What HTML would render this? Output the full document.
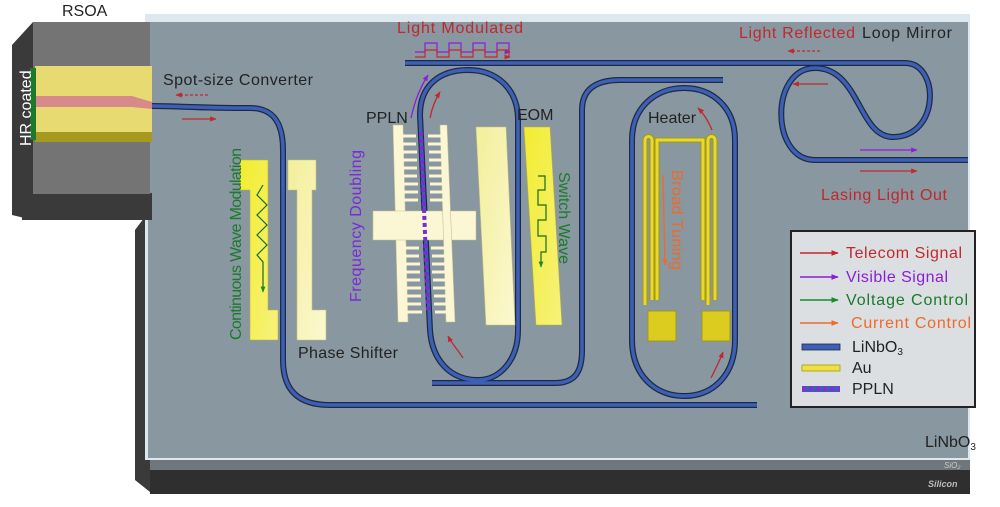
<!DOCTYPE html>
<html><head><meta charset="utf-8"><style>
html,body{margin:0;padding:0;background:#fff;}
svg{display:block;font-family:"Liberation Sans",sans-serif;}
</style></head><body>
<svg width="1000" height="507" viewBox="0 0 1000 507" xmlns="http://www.w3.org/2000/svg">
<defs>
<marker id="ar" viewBox="0 0 10 10" refX="9" refY="5" markerWidth="5" markerHeight="5" orient="auto"><path d="M0,1 L10,5 L0,9 z" fill="#c0282e"/></marker>
<marker id="ap" viewBox="0 0 10 10" refX="9" refY="5" markerWidth="5" markerHeight="5" orient="auto"><path d="M0,1 L10,5 L0,9 z" fill="#8a1ed8"/></marker>
<marker id="ag" viewBox="0 0 10 10" refX="9" refY="5" markerWidth="5" markerHeight="5" orient="auto"><path d="M0,1 L10,5 L0,9 z" fill="#1a8a2a"/></marker>
<marker id="ao" viewBox="0 0 10 10" refX="9" refY="5" markerWidth="5" markerHeight="5" orient="auto"><path d="M0,1 L10,5 L0,9 z" fill="#ee6a2a"/></marker>
<linearGradient id="ly" x1="0" y1="0" x2="1" y2="1"><stop offset="0" stop-color="#f3ef9a"/><stop offset="1" stop-color="#fbf8d0"/></linearGradient>
<linearGradient id="ey" x1="0" y1="0" x2="1" y2="1"><stop offset="0" stop-color="#f2ec30"/><stop offset="1" stop-color="#f7f27a"/></linearGradient>
</defs>
<rect width="1000" height="507" fill="#fff"/>
<!-- slab -->
<polygon points="135,230 150,210 150,492 135,480" fill="#3a3a3a"/>
<rect x="150" y="458" width="820" height="12" fill="#6f777c"/>
<rect x="150" y="470" width="820" height="24" fill="#2f2f2f"/>
<rect x="145" y="14" width="825" height="446" fill="#dde8ee"/>
<rect x="148" y="22" width="820" height="436" fill="#8897a0"/>
<!-- RSOA block -->
<polygon points="12,45 33,22 33,220 12,215" fill="#3a3a3a"/>
<rect x="22" y="193" width="130" height="27" fill="#3a3a3a"/>
<rect x="33" y="22" width="117" height="172" fill="#747474"/>
<rect x="35" y="66" width="117" height="68" fill="#e6da70"/>
<rect x="35" y="132" width="117" height="10" fill="#a49a20"/>
<rect x="30" y="68" width="6" height="72" fill="#1e7a2a"/>
<polygon points="36,96 132,96 152,102 152,109 132,107 36,107" fill="#d88a8a"/>
<!-- waveguides -->
<g fill="none" stroke-linecap="butt">
<g stroke="#1d2a45" stroke-width="6">
<path d="M152,106 C175,106 200,108 250,108 C275,108 283,125 283,150 L283,360 C283,392 300,405 330,405 L757,405"/>
<path d="M432,383 L555,383 C575,383 582,372 582,350 L582,110 C582,90 595,80 620,80 L723,80"/>
<path d="M420,115 C420,85 440,70 468,70 C498,70 518,90 518,120 L518,330 C518,360 500,380 478,380 C450,380 432,360 430,330 Z"/>
<path d="M405,63 L905,63 C940,63 940,137 893,137 C858,137 860,68 815,68 C770,68 770,160 815,160 L968,160"/>
<path d="M632,140 C632,108 655,88 684,88 C713,88 735,108 735,140 L735,340 C735,375 713,396 684,396 C655,396 632,375 632,340 Z"/>
</g>
<g stroke="#3d5fb4" stroke-width="3.5">
<path d="M152,106 C175,106 200,108 250,108 C275,108 283,125 283,150 L283,360 C283,392 300,405 330,405 L757,405"/>
<path d="M432,383 L555,383 C575,383 582,372 582,350 L582,110 C582,90 595,80 620,80 L723,80"/>
<path d="M420,115 C420,85 440,70 468,70 C498,70 518,90 518,120 L518,330 C518,360 500,380 478,380 C450,380 432,360 430,330 Z"/>
<path d="M405,63 L905,63 C940,63 940,137 893,137 C858,137 860,68 815,68 C770,68 770,160 815,160 L968,160"/>
<path d="M632,140 C632,108 655,88 684,88 C713,88 735,108 735,140 L735,340 C735,375 713,396 684,396 C655,396 632,375 632,340 Z"/>
</g>
</g>
<!-- CW electrodes -->
<polygon points="240,160 268,160 268,310 278,310 278,340 250,340 250,190 240,190" fill="url(#ey)" stroke="#b8b040" stroke-width="0.6"/>
<polygon points="288,160 316,160 316,190 312,190 312,310 326,310 326,340 297,340 297,190 288,190" fill="url(#ly)" stroke="#c8c080" stroke-width="0.6"/>
<polyline points="263,185 257,195 267,205 257,215 267,225 257,235 267,245 257,255 263,262 263,292" fill="none" stroke="#1a6a1a" stroke-width="1.2" marker-end="url(#ag)"/>
<!-- PPLN combs -->
<g fill="#fbf6d4" stroke="#c8c090" stroke-width="0.6">
<polygon points="393,125 403,125 408,322 398,322"/>
<polygon points="373,211 476,211 476,240 373,240"/>
<polygon points="440,125 447,125 455,322 446,322"/>
</g>
<g stroke="#fbf6d4" stroke-width="3">
<path d="M400,136 h16 M400,144 h16 M401,152 h16 M401,160 h16 M401,168 h16 M401,176 h16 M402,184 h16 M402,192 h16 M402,200 h16 M403,248 h16 M403,256 h16 M404,264 h16 M404,272 h16 M404,280 h16 M405,288 h16 M405,296 h16 M405,304 h16 M406,312 h16"/>
<path d="M428,136 h14 M428,144 h14 M429,152 h14 M429,160 h14 M429,168 h14 M429,176 h15 M430,184 h15 M430,192 h15 M430,200 h15 M431,248 h16 M432,256 h16 M432,264 h16 M432,272 h16 M433,280 h16 M433,288 h16 M434,296 h16 M434,304 h16 M435,312 h16"/>
</g>
<line x1="421" y1="132" x2="428" y2="310" stroke="#7a2ad8" stroke-width="4" stroke-dasharray="4,3"/>
<!-- EOM -->
<polygon points="476,127 506,127 515,325 486,325" fill="url(#ly)" stroke="#c8c080" stroke-width="0.6"/>
<polygon points="524,127 550,127 562,325 536,325" fill="url(#ey)" stroke="#b8b040" stroke-width="0.6"/>
<polyline points="538,176 545,176 545,190 538,190 538,205 546,205 546,220 538,220 538,236 546,236 546,252 541,252 541,267" fill="none" stroke="#1a6a1a" stroke-width="1.2" marker-end="url(#ag)"/>
<!-- Heater -->
<g fill="none" stroke="#a09a10" stroke-width="5">
<path d="M645,140 L645,305 M652,140 L652,300 M645,140 a3.5,3.5 0 0 1 7,0 M657,300 L657,140 L703,140 L703,300 M708,140 L708,305 M715,140 L715,300 M708,140 a3.5,3.5 0 0 1 7,0"/>
</g>
<g fill="none" stroke="#e8d830" stroke-width="3">
<path d="M645,140 L645,305 M652,140 L652,300 M645,140 a3.5,3.5 0 0 1 7,0 M657,300 L657,140 L703,140 L703,300 M708,140 L708,305 M715,140 L715,300 M708,140 a3.5,3.5 0 0 1 7,0"/>
</g>
<rect x="648" y="311" width="28" height="30" fill="#dccc20" stroke="#a09a10"/>
<rect x="702" y="311" width="28" height="30" fill="#dccc20" stroke="#a09a10"/>
<line x1="663" y1="175" x2="665" y2="265" stroke="#ee6a2a" stroke-width="1.3" marker-end="url(#ao)"/>
<!-- arrows -->
<line x1="208" y1="95" x2="176" y2="95" stroke="#c0282e" stroke-width="1.3" stroke-dasharray="3,2" marker-end="url(#ar)"/>
<line x1="182" y1="119" x2="216" y2="119" stroke="#c0282e" stroke-width="1.3" marker-end="url(#ar)"/>
<path d="M411,118 C415,100 420,88 428,75" fill="none" stroke="#8a1ed8" stroke-width="1.3" marker-end="url(#ap)"/>
<path d="M430,118 C432,108 435,100 440,92" fill="none" stroke="#c0282e" stroke-width="1.3" marker-end="url(#ar)"/>
<path d="M463,358 C458,350 452,344 448,336" fill="none" stroke="#c0282e" stroke-width="1.3" marker-end="url(#ar)"/>
<path d="M712,130 C708,120 704,114 698,108" fill="none" stroke="#c0282e" stroke-width="1.3" marker-end="url(#ar)"/>
<path d="M711,378 C716,368 720,360 723,352" fill="none" stroke="#c0282e" stroke-width="1.3" marker-end="url(#ar)"/>
<line x1="820" y1="51" x2="788" y2="51" stroke="#c0282e" stroke-width="1.3" stroke-dasharray="3,2" marker-end="url(#ar)"/>
<line x1="828" y1="84" x2="793" y2="84" stroke="#c0282e" stroke-width="1.3" marker-end="url(#ar)"/>
<line x1="860" y1="150" x2="917" y2="150" stroke="#8a1ed8" stroke-width="1.3" marker-end="url(#ap)"/>
<line x1="860" y1="171" x2="917" y2="171" stroke="#c0282e" stroke-width="1.3" marker-end="url(#ar)"/>
<polyline points="415,52 425,52 425,43 437,43 437,52 449,52 449,43 461,43 461,52 473,52 473,43 485,43 485,52 497,52 497,43 509,43 509,52 510,52" fill="none" stroke="#8a1ed8" stroke-width="1.2" marker-end="url(#ap)"/>
<polyline points="415,57 425,57 425,50 437,50 437,57 449,57 449,50 461,50 461,57 473,57 473,50 485,50 485,57 497,57 497,50 509,50 509,57 510,57" fill="none" stroke="#c0282e" stroke-width="1.2" marker-end="url(#ar)"/>
<!-- labels -->
<g font-size="16">
<text x="62" y="16" fill="#222">RSOA</text>
<text x="0" y="0" fill="#fff" transform="translate(31,146) rotate(-90)">HR coated</text>
<text x="163" y="85" fill="#222" textLength="150">Spot-size Converter</text>
<text x="397" y="33" fill="#c0282e" textLength="126">Light Modulated</text>
<text x="739" y="38" fill="#c0282e" textLength="116">Light Reflected</text>
<text x="862" y="38" fill="#222" textLength="90">Loop Mirror</text>
<text x="366" y="123" fill="#222">PPLN</text>
<text x="517" y="120" fill="#222">EOM</text>
<text x="648" y="123" fill="#222">Heater</text>
<text x="821" y="200" fill="#c0282e" textLength="126">Lasing Light Out</text>
<text x="298" y="358" fill="#222" textLength="100">Phase Shifter</text>
<text x="0" y="0" fill="#1a7a2a" transform="translate(241,340) rotate(-90)" textLength="192">Continuous Wave Modulation</text>
<text x="0" y="0" fill="#7a2ad8" transform="translate(361,302) rotate(-90)" textLength="152">Frequency Doubling</text>
<text x="0" y="0" fill="#1a7a2a" transform="translate(559,172) rotate(90)" textLength="92">Switch Wave</text>
<text x="0" y="0" fill="#ee6a2a" transform="translate(672,170) rotate(90)" textLength="100">Broad Tuning</text>
<text x="925" y="447" fill="#222">LiNbO<tspan font-size="10" dy="3">3</tspan></text>
</g>
<text x="944" y="468" font-size="8" font-style="italic" fill="#ccc">SiO₂</text>
<text x="928" y="487" font-size="9" font-style="italic" font-weight="bold" fill="#bbb">Silicon</text>
<!-- legend -->
<rect x="791" y="231" width="184" height="176" fill="#dcdfe2" stroke="#222" stroke-width="2"/>
<g font-size="16">
<line x1="800" y1="253" x2="838" y2="253" stroke="#c0282e" stroke-width="1.5" marker-end="url(#ar)"/>
<text x="846" y="258" fill="#c0282e" textLength="116">Telecom Signal</text>
<line x1="800" y1="277" x2="838" y2="277" stroke="#8a1ed8" stroke-width="1.5" marker-end="url(#ap)"/>
<text x="846" y="282" fill="#8a1ed8" textLength="102">Visible Signal</text>
<line x1="800" y1="300" x2="838" y2="300" stroke="#1a8a2a" stroke-width="1.5" marker-end="url(#ag)"/>
<text x="846" y="305" fill="#1a7a2a" textLength="122">Voltage Control</text>
<line x1="800" y1="323" x2="838" y2="323" stroke="#ee6a2a" stroke-width="1.5" marker-end="url(#ao)"/>
<text x="851" y="328" fill="#ee6a2a" textLength="120">Current Control</text>
<rect x="802" y="344" width="38" height="6" fill="#3d5fb4" stroke="#1d2a45" stroke-width="0.8"/>
<text x="852" y="352" fill="#222">LiNbO<tspan font-size="10" dy="3">3</tspan></text>
<rect x="802" y="365" width="38" height="6" fill="#f0e040" stroke="#a09a10" stroke-width="0.8"/>
<text x="852" y="373" fill="#222">Au</text>
<rect x="802" y="386" width="38" height="6" fill="#3d5fb4"/>
<line x1="802" y1="389" x2="840" y2="389" stroke="#8a2ad8" stroke-width="4" stroke-dasharray="4,3"/>
<text x="852" y="394" fill="#222">PPLN</text>
</g>
</svg>
</body></html>
